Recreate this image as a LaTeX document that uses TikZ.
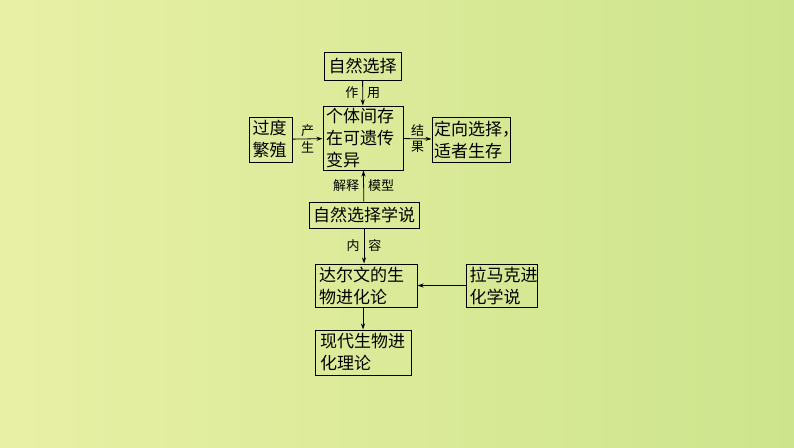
\documentclass[tikz,border=0pt]{standalone}
\usepackage{fontspec}
\setmainfont{Noto Sans CJK SC}
\usetikzlibrary{arrows.meta}
\begin{document}
\begin{tikzpicture}[x=1pt,y=-1pt,
  bx/.style={draw,line width=1pt,inner sep=0pt,align=left,font=\fontsize{17}{22}\selectfont},
  lb/.style={font=\fontsize{13}{18}\selectfont,inner sep=4pt},
  ar/.style={-{Stealth[length=6pt,width=4pt]},line width=0.8pt}]
\shade[left color={rgb,255:red,232;green,240;blue,165},right color={rgb,255:red,205;green,228;blue,140}] (0,0) rectangle (794,447);
\useasboundingbox (0,0) rectangle (794,447);
\node[bx,minimum width=77,minimum height=28] (ns) at (362.5,66) {自然选择};
\node[bx,minimum width=80,minimum height=64,text width=74] (gt) at (363,138) {个体间存\\在可遗传\\变异};
\node[bx,minimum width=43,minimum height=45,text width=36] (gd) at (270.5,139.5) {过度\\繁殖};
\node[bx,minimum width=78,minimum height=45,text width=74] (dx) at (471,139.5) {定向选择，\\适者生存};
\node[bx,minimum width=110,minimum height=26] (xs) at (364,215) {自然选择学说};
\node[bx,minimum width=102,minimum height=43,text width=94] (de) at (366,285.5) {达尔文的生\\物进化论};
\node[bx,minimum width=71,minimum height=43,text width=64] (lm) at (501.5,285.5) {拉马克进\\化学说};
\node[bx,minimum width=96,minimum height=45,text width=86] (xd) at (363,352.5) {现代生物进\\化理论};
\draw[ar] (ns) -- (gt) node[midway,lb,left]{作} node[midway,lb,right]{用};
\draw[ar] (gd) -- (gt) node[midway,lb,above,inner sep=2pt]{产} node[midway,lb,below,inner sep=2pt]{生};
\draw[ar] (gt) -- (dx) node[midway,lb,above,inner sep=2pt]{结} node[midway,lb,below,inner sep=2pt]{果};
\draw[ar] (xs) -- (gt) node[midway,lb,left]{解释} node[midway,lb,right]{模型};
\draw[ar] (xs) -- (xs |- de.north) node[midway,lb,left]{内} node[midway,lb,right]{容};
\draw[ar] (lm) -- (de);
\draw[ar] (de.south -| xd.north) -- (xd);
\end{tikzpicture}
\end{document}
